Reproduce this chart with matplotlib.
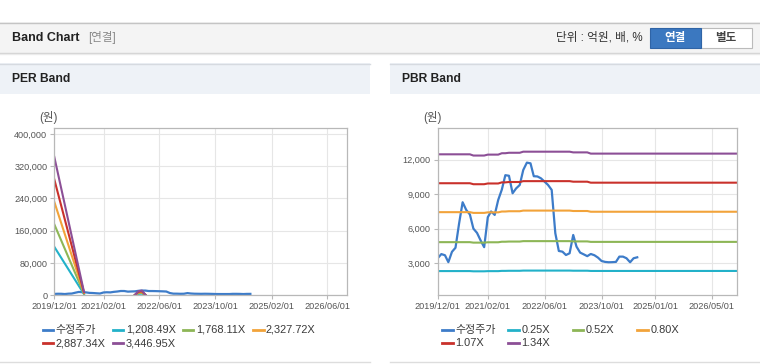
import matplotlib
matplotlib.use("Agg")
import matplotlib.pyplot as plt
from matplotlib.patches import Rectangle
from matplotlib.lines import Line2D
import numpy as np
import pandas as pd

plt.rcParams['font.family'] = ['Liberation Sans', 'Noto Sans CJK KR']

# adjusted price (monthly, from 2019/12)
price = [3440, 3800, 3700, 3100, 4000, 4350, 6470, 8300, 7630, 7240,
         6010, 5640, 5000, 4400, 7000, 7500, 7200, 8500, 9400, 10650,
         10600, 9080, 9500, 9800, 11100, 11740, 11680, 10560, 10540, 10380,
         10090, 9800, 9370, 5610, 4070, 4010, 3720, 3870, 5460, 4450,
         3930, 3780, 3620, 3810, 3700, 3490, 3200, 3120, 3090, 3100,
         3120, 3580, 3580, 3440, 3090, 3440, 3520]
price_dates = pd.date_range('2019-12-01', periods=len(price), freq='MS')

# EPS behind the PER band (gaps where EPS is negative)
eps_dates = pd.to_datetime(['2019-12-01', '2020-08-15', '2021-06-01',
                            '2021-11-01', '2021-12-01', '2022-01-01', '2022-02-01'])
eps = [99.5, 2.5, np.nan, 0.3, 3.0, 3.4, 0.3]
per_multiples = [1208.49, 1768.11, 2327.72, 2887.34, 3446.95]
per_labels = ['수정주가', '1,208.49X', '1,768.11X', '2,327.72X', '2,887.34X', '3,446.95X']

# BPS behind the PBR band
bps_dates = pd.to_datetime(['2019-12-01', '2020-09-01', '2020-10-01', '2021-01-01',
                            '2021-02-01', '2021-05-01', '2021-06-01', '2021-07-01',
                            '2021-08-01', '2021-11-01', '2021-12-01', '2023-01-01',
                            '2023-02-01', '2023-06-01', '2023-07-01', '2027-01-01'])
bps = [9300, 9300, 9220, 9220, 9280, 9280, 9370, 9370,
       9400, 9400, 9470, 9470, 9425, 9425, 9345, 9345]
pbr_multiples = [0.25, 0.52, 0.80, 1.07, 1.34]
pbr_labels = ['수정주가', '0.25X', '0.52X', '0.80X', '1.07X', '1.34X']

per_xticks = ['2019/12/01', '2021/02/01', '2022/06/01', '2023/10/01', '2025/02/01', '2026/06/01']
pbr_xticks = ['2019/12/01', '2021/02/01', '2022/06/01', '2023/10/01', '2025/01/01', '2026/05/01']
per_yticks = [0, 80000, 160000, 240000, 320000, 400000]
pbr_yticks = [3000, 6000, 9000, 12000]

price_color = '#3d7cc9'
band_colors = ['#22b1c9', '#8db656', '#f2a33a', '#c9312b', '#8c4f96']

W, H = 760, 364

def fx(x):
    return x / W

def fy(y):
    return 1 - y / H

fig = plt.figure(figsize=(7.6, 3.64), dpi=100)

def rect(x0, y0, x1, y1, fc, ec='none', lw=0.8, z=0):
    fig.add_artist(Rectangle((fx(x0), fy(y1)), (x1 - x0) / W, (y1 - y0) / H,
                             transform=fig.transFigure, facecolor=fc,
                             edgecolor=ec, lw=lw, zorder=z))

def hline(x0, x1, y, color, lw=1.0):
    fig.add_artist(Line2D([fx(x0), fx(x1)], [fy(y), fy(y)], color=color, lw=lw,
                          transform=fig.transFigure))

# top header bar
rect(0, 22.5, 760, 52.5, '#f4f4f4')
hline(0, 760, 22.5, '#c4c4c4')
hline(0, 760, 52.5, '#d2d2d2')
hline(0, 760, 53.5, '#ebebeb')
fig.text(fx(12), fy(38), 'Band Chart', fontsize=9, fontweight='bold', color='#222', va='center')
fig.text(fx(88), fy(38), '[연결]', fontsize=8.3, color='#888', va='center')
fig.text(fx(643), fy(38), '단위 : 억원, 배, %', fontsize=8.4, color='#333', va='center', ha='right')
rect(700.5, 28.5, 751.5, 47.5, 'white', ec='#bbbbbb', z=1)
rect(649.5, 28.5, 700.5, 47.5, '#3b78c0', ec='#2f64a6', z=2)
fig.text(fx(675), fy(38), '연결', fontsize=8.3, fontweight='bold', color='white', va='center', ha='center')
fig.text(fx(726), fy(38), '별도', fontsize=8.3, fontweight='bold', color='#444', va='center', ha='center')

# panel headers
for x0, x1, title in [(0, 370, 'PER Band'), (390, 760, 'PBR Band')]:
    rect(x0, 63.5, x1, 93.5, '#eef2f7')
    hline(x0, x1, 63.5, '#d6dae0')
    hline(x0, x1, 362, '#dddddd')
    fig.text(fx(x0 + 12), fy(79), title, fontsize=8.7, fontweight='bold', color='#222', va='center')

def style_axes(ax, yticks, xtick_labels, ylim, xlim):
    ax.set_ylim(*ylim)
    ax.set_xlim(pd.Timestamp(xlim[0]), pd.Timestamp(xlim[1]))
    ax.set_yticks(yticks)
    ax.set_yticklabels([f'{v:,}' for v in yticks])
    ax.set_xticks(pd.to_datetime(xtick_labels, format='%Y/%m/%d'))
    ax.set_xticklabels(xtick_labels)
    ax.grid(True, color='#e6e6e6', lw=0.8)
    ax.set_axisbelow(True)
    for s in ax.spines.values():
        s.set_color('#b8b8b8')
        s.set_linewidth(0.9)
    ax.tick_params(labelsize=6.6, colors='#b8b8b8', labelcolor='#555', length=3, width=0.8, pad=2)

ax1 = fig.add_axes([fx(54.3), fy(295.3), (347.3 - 54.3) / W, (295.3 - 128.3) / H])
ax1.plot(price_dates, price, color=price_color, lw=1.6)
for m, c in zip(per_multiples, band_colors):
    ax1.plot(eps_dates, np.array(eps) * m, color=c, lw=1.5)
style_axes(ax1, per_yticks, per_xticks, (0, 414000), ('2019-12-01', '2026-11-22'))

ax2 = fig.add_axes([fx(437.7), fy(295.3), (737.3 - 437.7) / W, (295.3 - 128.3) / H])
ax2.plot(price_dates, price, color=price_color, lw=1.6)
for m, c in zip(pbr_multiples, band_colors):
    ax2.plot(bps_dates, np.array(bps) * m, color=c, lw=1.5)
style_axes(ax2, pbr_yticks, pbr_xticks, (222, 14720), ('2019-12-01', '2026-12-04'))

fig.text(fx(48), fy(117), '(원)', fontsize=8.3, color='#555', ha='center', va='center')
fig.text(fx(432), fy(118), '(원)', fontsize=8.3, color='#555', ha='center', va='center')

# legends
def legend(labels, xs, rows_y):
    colors = [price_color] + band_colors
    for i, (lab, c) in enumerate(zip(labels, colors)):
        x = xs[i % 4]
        y = rows_y[i // 4]
        fig.add_artist(Line2D([fx(x), fx(x + 10.5)], [fy(y), fy(y)], color=c, lw=2,
                              transform=fig.transFigure))
        fig.text(fx(x + 13), fy(y), lab, fontsize=7.9, color='#3a3a3a', va='center')

legend(per_labels, [42.7, 112.7, 182.7, 253], [330, 343.3])
legend(pbr_labels, [442.3, 508.3, 572.7, 637.3], [330.3, 343.3])

plt.savefig('out.png', dpi=100)
